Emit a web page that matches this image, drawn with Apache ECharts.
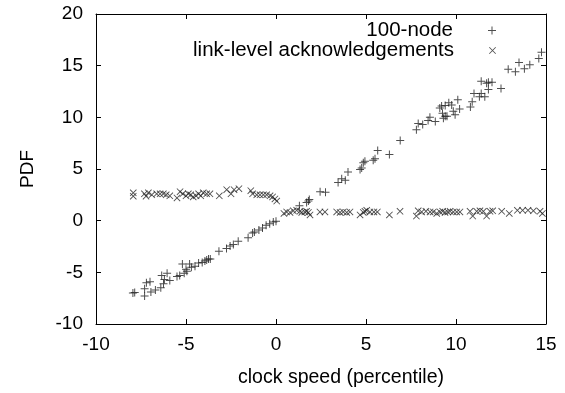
<!DOCTYPE html>
<html>
<head>
<meta charset="utf-8">
<script src="https://cdn.jsdelivr.net/npm/echarts@6/dist/echarts.min.js"></script>
<style>
  html, body { margin: 0; padding: 0; background: #fff; }
  #chart { width: 565px; height: 393px; }
</style>
</head>
<body>
<div id="chart"></div>
<script>
// 100-node series (plus markers)
const nodeX = [-7.95,-7.85,-7.3,-7.3,-7.2,-7.0,-6.95,-6.7,-6.4,-6.35,-6.25,-6.2,-6.05,-5.9,-5.5,-5.35,-5.2,-5.1,-5.0,-4.95,
  -4.8,-4.7,-4.5,-4.3,-4.1,-3.95,-3.85,-3.75,-3.65,-3.17,-2.75,-2.55,-2.37,-2.1,-1.55,-1.3,-1.2,-0.95,-0.75,-0.55,
  -0.35,-0.15,0.0,1.3,1.7,1.8,1.85,2.45,2.75,3.45,3.65,3.85,4.0,4.67,4.76,4.85,4.94,5.4,5.5,5.65,
  6.3,6.9,7.8,7.9,8.15,8.45,8.55,8.85,9.1,9.2,9.4,9.25,9.3,9.5,9.6,9.4,9.76,9.85,9.95,10.1,
  10.2,10.8,10.9,11.0,11.3,11.4,11.6,11.4,11.7,11.8,12.0,11.8,12.5,12.9,13.3,13.5,13.8,14.1,14.6,14.75];
const nodeY = [-7.0,-6.95,-6.6,-7.3,-6.0,-5.9,-6.9,-6.7,-6.5,-5.3,-6.1,-5.7,-5.1,-5.8,-5.4,-5.3,-4.2,-5.1,-4.7,-4.9,
  -4.2,-4.5,-4.4,-4.1,-4.05,-3.9,-3.8,-3.7,-3.7,-2.95,-2.7,-2.45,-2.3,-2.0,-1.65,-1.2,-1.1,-0.9,-0.7,-0.45,
  -0.3,-0.13,-0.05,1.45,1.75,1.9,2.05,2.8,2.75,3.7,4.05,3.9,4.7,4.95,5.1,5.6,5.75,5.85,6.0,6.8,
  6.4,7.75,8.8,9.4,9.3,9.7,10.0,9.6,10.9,11.1,11.15,10.4,9.9,10.1,11.4,10.1,11.2,10.6,10.25,11.7,
  10.8,11.0,11.5,12.3,12.0,12.3,12.0,13.5,13.3,13.4,13.4,12.7,12.8,14.65,14.4,15.3,14.7,15.1,15.7,16.3];

// link-level acknowledgements series (cross markers)
const ackX = [-7.93,-7.93,-7.31,-7.22,-7.09,-6.9,-6.63,-6.44,-6.26,-6.1,-5.9,-5.5,-5.33,-5.18,-5.0,-4.87,-4.74,-4.6,-4.44,-4.3,
  -4.18,-4.04,-3.85,-3.67,-3.15,-2.74,-2.5,-2.33,-2.06,-1.4,-1.3,-1.07,-0.89,-0.7,-0.52,-0.33,-0.19,-0.06,0.04,
  0.44,0.59,0.78,0.96,1.15,1.33,1.43,1.6,1.7,1.8,1.89,2.44,2.72,3.37,3.56,3.74,3.93,4.11,4.67,4.85,4.94,5.04,5.22,5.44,5.63,
  6.3,6.89,7.8,7.9,8.09,8.33,8.56,8.74,8.93,9.11,9.26,9.39,9.54,9.67,9.85,10.04,10.22,10.78,10.93,11.15,11.33,11.52,11.7,11.89,12.04,
  12.54,12.96,13.41,13.7,14.0,14.3,14.67,14.8];
const ackY = [2.37,2.7,2.6,2.37,2.7,2.5,2.6,2.6,2.6,2.5,2.4,2.2,2.8,2.6,2.4,2.6,2.5,2.3,2.4,2.6,
  2.4,2.7,2.6,2.6,2.4,3.0,2.6,3.0,3.1,2.9,2.6,2.5,2.5,2.5,2.5,2.4,2.3,2.1,1.9,
  0.7,0.85,0.8,0.95,1.0,0.9,0.8,0.85,0.9,0.8,0.55,0.85,0.85,0.85,0.8,0.85,0.8,0.85,0.55,0.8,0.9,1.0,0.85,0.85,0.85,
  0.55,0.9,0.45,0.95,0.85,0.9,0.85,0.85,0.7,0.85,0.9,0.8,0.85,0.9,0.85,0.85,0.85,0.9,0.45,0.9,0.95,0.9,0.45,0.9,0.95,
  0.9,0.7,1.0,1.0,1.0,0.95,0.9,0.7];

const xTicks = [-10, -5, 0, 5, 10, 15];
const yTicks = [-10, -5, 0, 5, 10, 15, 20];

const plusPath = 'path://M3.5,0h1v8h-1zM0,3.5h8v1h-8z';
const crossPath = 'path://M0,0.7L0.7,0L8,7.3L7.3,8ZM7.3,0L8,0.7L0.7,8L0,7.3Z';
const font = 'Liberation Sans, Arial, sans-serif';

function pairs(xs, ys) {
  return xs.map((x, i) => [x, ys[i]]);
}

function frameAxis(pos, min, max, interval, showLabel) {
  return {
    type: 'value', position: pos, min: min, max: max, interval: interval,
    axisLine: {show: true, onZero: false, lineStyle: {color: '#000', width: 1}},
    axisTick: {show: true, inside: true, length: 5, lineStyle: {color: '#000'}},
    splitLine: {show: false},
    axisLabel: {show: showLabel, color: '#000', fontFamily: font, fontSize: 19}
  };
}

const chart = echarts.init(document.getElementById('chart'), null, {renderer: 'canvas'});

const xBottom = frameAxis('bottom', xTicks[0], xTicks[xTicks.length - 1], 5, true);
xBottom.axisLabel.margin = 11;
xBottom.name = 'clock speed (percentile)';
xBottom.nameLocation = 'middle';
xBottom.nameGap = 44;
xBottom.nameTextStyle = {color: '#000', fontFamily: font, fontSize: 19.5, padding: [0, 0, 0, 40]};

const yLeft = frameAxis('left', yTicks[0], yTicks[yTicks.length - 1], 5, true);
yLeft.axisLabel.margin = 13;
yLeft.name = 'PDF';
yLeft.nameLocation = 'middle';
yLeft.nameGap = 59;
yLeft.nameTextStyle = {color: '#000', fontFamily: font, fontSize: 19};

chart.setOption({
  animation: false,
  backgroundColor: '#fff',
  grid: {left: 96, right: 19, top: 14, bottom: 68},
  xAxis: [xBottom, frameAxis('top', xTicks[0], xTicks[xTicks.length - 1], 5, false)],
  yAxis: [yLeft, frameAxis('right', yTicks[0], yTicks[yTicks.length - 1], 5, false)],
  legend: [
    {
      data: [{name: '100-node', icon: plusPath}],
      right: 64, top: 15, align: 'right', itemWidth: 8, itemHeight: 8,
      textStyle: {color: '#000', fontFamily: font, fontSize: 20.5, padding: [0, 30, 0, 0]}
    },
    {
      data: [{name: 'link-level acknowledgements', icon: crossPath}],
      right: 64, top: 35, align: 'right', itemWidth: 7, itemHeight: 7,
      textStyle: {color: '#000', fontFamily: font, fontSize: 20.5, padding: [0, 30, 0, 0]}
    }
  ],
  series: [
    {
      name: '100-node', type: 'scatter',
      symbol: plusPath, symbolSize: 8,
      itemStyle: {color: '#222'},
      data: pairs(nodeX, nodeY)
    },
    {
      name: 'link-level acknowledgements', type: 'scatter',
      symbol: crossPath, symbolSize: 7,
      itemStyle: {color: '#222'},
      data: pairs(ackX, ackY)
    }
  ]
});
</script>
</body>
</html>
